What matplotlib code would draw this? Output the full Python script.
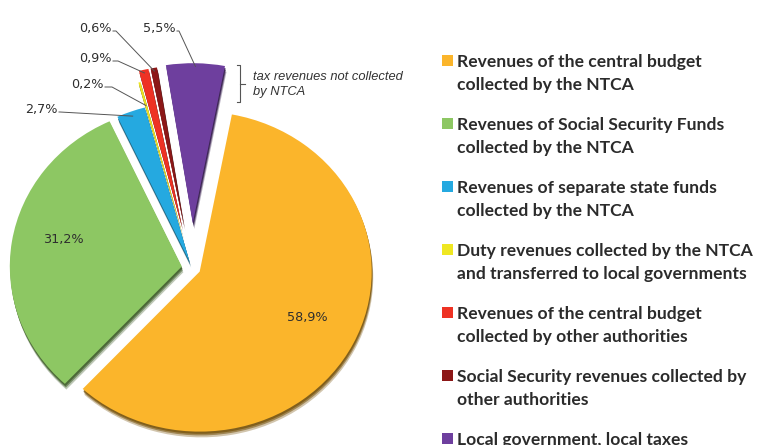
import numpy as np
import matplotlib.pyplot as plt
from matplotlib.patches import Rectangle, Wedge
from matplotlib.colors import to_rgb

# data
legend_labels = [
    "Revenues of the central budget\ncollected by the NTCA",
    "Revenues of Social Security Funds\ncollected by the NTCA",
    "Revenues of separate state funds\ncollected by the NTCA",
    "Duty revenues collected by the NTCA\nand transferred to local governments",
    "Revenues of the central budget\ncollected by other authorities",
    "Social Security revenues collected by\nother authorities",
    "Local government, local taxes",
]
shares = [58.9, 31.2, 2.7, 0.2, 0.9, 0.6, 5.5]
pct_text = ["58,9%", "31,2%", "2,7%", "0,2%", "0,9%", "0,6%", "5,5%"]
colors = ["#FBB52B", "#8DC763", "#25A9E0", "#EFE722", "#EE3224", "#8C1717", "#6E3F9E"]
explode = [0.05, 0.06, 0.04, 0.2, 0.27, 0.27, 0.28]

W, H = 757, 445
CX, CY = 192, 268      # pie centre, pixels
SX, SY = 172, 160      # pixels per unit (tilted pie)


def px(x, y):
    # pixel position -> data position
    return (x - CX) / SX, (CY - y) / SY


def anchor(w, r):
    t = np.deg2rad((w.theta1 + w.theta2) / 2)
    return w.center[0] + r * np.cos(t), w.center[1] + r * np.sin(t)


def main():
    fig = plt.figure(figsize=(W / 100, H / 100), dpi=100, facecolor='w')
    ax = fig.add_axes([0, 0, 1, 1])
    wedges, _ = ax.pie(shares, colors=colors, explode=explode, startangle=79.2,
                       counterclock=False, wedgeprops=dict(linewidth=0))
    ax.set_aspect('auto')
    ax.set_xlim(-CX / SX, (W - CX) / SX)
    ax.set_ylim((CY - H) / SY, CY / SY)
    ax.axis('off')

    # 3d-ish drop shadow under every slice
    for w in wedges:
        dark = 0.5 * np.array(to_rgb(w.get_facecolor()))
        for off, a in [(0.036, 0.35), (0.024, 0.6), (0.014, 0.9)]:
            ax.add_patch(Wedge((w.center[0] + off * 0.25, w.center[1] - off), w.r,
                               w.theta1, w.theta2, facecolor=dark, edgecolor='none',
                               alpha=a, zorder=w.get_zorder() - 0.1))

    lab_font = dict(family='DejaVu Sans', fontsize=9.2, color='#2E2E2E')
    # labels inside big slices
    ax.text(*px(307, 317), pct_text[0], ha='center', va='center', **lab_font)
    ax.text(*px(63, 240), pct_text[1], ha='center', va='center', **lab_font)

    # outside labels: (index, text right end, line y, elbow x, anchor radius)
    outside = [(2, 58, 112, 60, 0.97),
               (3, 104, 87, 112, 0.85),
               (4, 112, 61, 118, 0.98),
               (5, 112, 31, 116, 0.98),
               (6, 176, 31, 179, 0.98)]
    for i, xe, yl, xb, r in outside:
        ax.text(*px(xe, yl + 1), pct_text[i], ha='right', va='baseline', **lab_font)
        p0 = px(xe + 1, yl)
        p1 = px(xb, yl)
        p2 = anchor(wedges[i], r)
        ax.plot([p0[0], p1[0], p2[0]], [p0[1], p1[1], p2[1]],
                color='#555555', lw=0.7, zorder=5)

    # bracket for the group not collected by NTCA
    bx = [237, 240, 240, 237]
    by = [65, 65, 102, 102]
    ax.plot(*zip(*[px(x, y) for x, y in zip(bx, by)]), color='#555555', lw=0.8)
    ax.plot(*zip(px(240, 84), px(245, 84)), color='#555555', lw=0.8)
    ax.text(*px(253, 80), "tax revenues not collected", ha='left', va='baseline',
            family='Liberation Sans', style='italic', fontsize=9.3, color='#333333')
    ax.text(*px(253, 95), "by NTCA", ha='left', va='baseline',
            family='Liberation Sans', style='italic', fontsize=9.3, color='#333333')

    # legend
    for i, (lab, c) in enumerate(zip(legend_labels, colors)):
        yb = 67 + 63 * i
        fig.patches.append(Rectangle((442 / W, 1 - (yb - 1) / H), 11 / W, 11 / H,
                                     transform=fig.transFigure, facecolor=c,
                                     edgecolor='none'))
        for k, line in enumerate(lab.split('\n')):
            fig.text(457 / W, 1 - (yb + 23 * k) / H, line, ha='left', va='baseline',
                     family='Lato', fontweight='bold', fontsize=12.6, color='#2B2B2B')

    fig.savefig('out.png', dpi=100, facecolor='w')


if __name__ == '__main__':
    main()
